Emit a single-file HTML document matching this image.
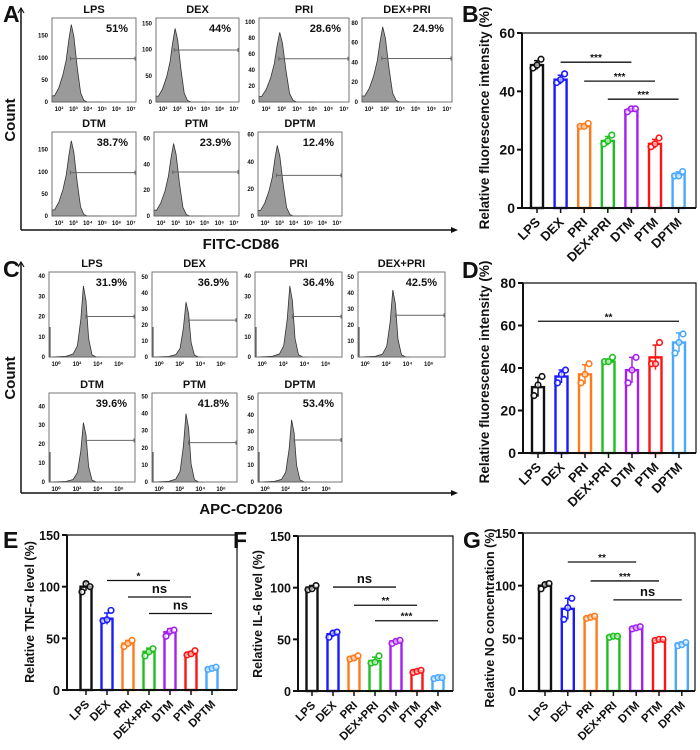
<!DOCTYPE html>
<html><head><meta charset="utf-8"><style>
html,body{margin:0;padding:0;background:#fff}
svg{display:block}
text{font-family:"Liberation Sans",Arial,sans-serif;font-weight:bold}
</style></head><body>
<svg id="fig" width="700" height="750" viewBox="0 0 700 750" xmlns="http://www.w3.org/2000/svg"></svg>
<script>
// ---------- data ----------
const groups = ["LPS","DEX","PRI","DEX+PRI","DTM","PTM","DPTM"];
const colors = ["#111111","#1a1aff","#ff7a1a","#1fbf1f","#a51ff0","#ff1414","#4aa8ff"];

const bMeans = [49,44,28,23,33.5,22,11.5];
const bPts = [[48,49,51],[43,44,46],[28,28,29],[22,23,25],[33,34,34],[21,22,24],[11,11,12.5]];
const bSig = [[1,4,50,"***"],[2,5,43.5,"***"],[3,6,37.3,"***"]];
const bTicks = [0,20,40,60];

const dMeans = [31,36,37,43,39,45,52];
const dPts = [[27,32,36],[33,37,39],[33,37,42],[43,43,45],[33,39,45],[42,42,52],[47,52,56]];
const dSig = [[0,6,62,"**"]];
const dTicks = [0,20,40,60,80];

const eMeans = [100,69,45,37,56,35,21];
const ePts = [[95,103,100],[67,68,77],[42,45,48],[33,37,40],[52,57,58],[34,35,38],[20,21,22]];
const eSig = [[1,4,106,"*"],[2,5,90,"ns"],[3,6,74,"ns"]];
const fMeans = [100,55,32,29,48,19,13];
const fPts = [[98,99,102],[52,56,57],[31,32,34],[27,28,34],[46,48,49],[18,19,20],[12,13,13]];
const fSig = [[1,4,100.6,"ns"],[2,5,83,"**"],[3,6,68,"***"]];
const gMeans = [100,78,70,52,60,48,45];
const gPts = [[97,101,102],[68,79,88],[69,70,71],[51,52,52],[59,60,61],[48,49,49],[43,44,46]];
const gSig = [[1,4,122.5,"**"],[2,5,104.5,"***"],[3,6,86.5,"ns"]];
const efgTicks = [0,50,100,150];

// flow cytometry panels
const aTitles = ["LPS","DEX","PRI","DEX+PRI","DTM","PTM","DPTM"];
const aPct = ["51%","44%","28.6%","24.9%","38.7%","23.9%","12.4%"];
const aYTicks = [[0,50,100,150],[0,50,100,150],[0,20,40,60,80,100],[0,20,40,60,80],[0,50,100,150],[0,20,40,60],[0,20,40,60]];
const aYMax = [190,160,105,85,190,65,62];
const aPeak = [175,140,87,76,170,56,52];
const aGate = [98,99,54,44,98,34,30];
const aXTicks = ["10²","10³","10⁴","10⁵","10⁶","10⁷"];
const cPct = ["31.9%","36.9%","36.4%","42.5%","39.6%","41.8%","53.4%"];
const cYTicks = [[0,10,20,30,40],[0,10,20,30,40,50],[0,10,20,30,40],[0,10,20,30,40,50],[0,10,20,30,40],[0,10,20,30,40,50],[0,10,20,30,40,50]];
const cYMax = [42,53,42,53,47,52,53];
const cPeak = [37,36,37,44,33,42,39];
const cGate = [20,23,20,26,22,23,25];
const cXTicks = ["10⁰","10²","10⁴","10⁶"];
// histogram shape profiles (x fraction, relative height)
const aProfX = [0,0.03,0.08,0.13,0.17,0.2,0.23,0.26,0.3,0.34,0.38,0.42];
const aProfY = [0.08,0.08,0.18,0.35,0.55,0.8,1.0,0.85,0.45,0.12,0.02,0];
const cProfX = [0.02,0.2,0.28,0.33,0.37,0.4,0.43,0.46,0.5,0.55];
const cProfY = [0,0.01,0.04,0.15,0.5,0.95,0.75,0.25,0.03,0];

// ---------- helpers ----------
const NS="http://www.w3.org/2000/svg";
const svg=document.getElementById('fig');
function mk(tag,attrs,parent){const e=document.createElementNS(NS,tag);for(const k in attrs)e.setAttribute(k,attrs[k]);(parent||svg).appendChild(e);return e;}
function txt(s,x,y,size,anchor,parent,extra){const t=mk('text',Object.assign({x:x,y:y,'font-size':size,'text-anchor':anchor||'start',fill:'#111'},extra||{}),parent);t.textContent=s;return t;}

// panel letters
[["A",3,22],["B",462,22],["C",3,277],["D",462,278],["E",3,548],["F",233,548],["G",463,548]].forEach(function(p){
  const t=txt(p[0],p[1],p[2],23,'start');
  
  
});

// ---------- flow panels ----------
function flowPanel(boxes,titles,pct,yticks,ymax,peak,gate,xticks,profX,profY,gateStart,prefix,titleOff){
  boxes.forEach(function(b,i){
    const g=mk('g',{});
    
    
    const x=b[0],y=b[1],w=b[2],h=b[3];
    const yy=v=>y+h-v/ymax[i]*h;
    // histogram path
    let d='M'+x+','+(y+h);
    profX.forEach(function(px,k){d+=' L'+(x+px*w).toFixed(1)+','+yy(profY[k]*peak[i]).toFixed(1);});
    d+=' L'+(x+w*0.6)+','+(y+h)+' Z';
    const hp=mk('path',{d:d,fill:'#9a9a9a',stroke:'#333','stroke-width':0.8},g);
    
    
    if(prefix==='c'){mk('line',{x1:x+1,y1:y+h,x2:x+1,y2:y+h-30,stroke:'#555','stroke-width':1.2},g);}
    const r=mk('rect',{x:x,y:y,width:w,height:h,fill:'none',stroke:'#666','stroke-width':0.9},g);
    
    
    // gate
    const gx=x+gateStart*w, gy=yy(gate[i]);
    mk('line',{x1:gx,y1:gy,x2:x+w,y2:gy,stroke:'#666','stroke-width':1},g);
    mk('line',{x1:gx,y1:gy-2,x2:gx,y2:gy+2,stroke:'#666','stroke-width':1},g);
    mk('line',{x1:x+w-1,y1:gy-2,x2:x+w-1,y2:gy+2,stroke:'#666','stroke-width':1},g);
    // y ticks
    yticks[i].forEach(function(v){txt(String(v),x-4,yy(v)+2,6,'end',g);});
    // x ticks
    xticks.forEach(function(s,k){const tx=x+7+k*(w-12)/(xticks.length-1)*(prefix==='c'?0.85:1);txt(s,tx,y+h+9,6,'middle',g);});
    const tt=txt(titles[i],x+w/2,y-titleOff,11,'middle',g);
    
    
    const pt=txt(pct[i],x+w-8,y+14,11,'end',g);
    
    
  });
}
const aBoxes=[[52,18,84,84],[156,18,83,84],[259,18,90,84],[362,18,90,84],[52,132,84,84],[154,132,85,84],[258,132,84,84]];
flowPanel(aBoxes,aTitles,aPct,aYTicks,aYMax,aPeak,aGate,aXTicks,aProfX,aProfY,0.22,'a',5);
const cBoxes=[[49,272,86,85],[152,272,85,85],[255,272,87,85],[358,272,87,85],[49,393,86,89],[152,393,85,89],[258,393,84,89]];
flowPanel(cBoxes,aTitles,cPct,cYTicks,cYMax,cPeak,cGate,cXTicks,cProfX,cProfY,0.43,'c',5);

// big axes for A & C
function bigAxes(yTop,yBot,label,labelY,countY,prefix){
  const g=mk('g',{});
  
  
  mk('line',{x1:21,y1:yTop,x2:21,y2:yBot,stroke:'#111','stroke-width':1.5},g);
  mk('path',{d:'M18,'+(yTop+5)+' L21,'+yTop+' L24,'+(yTop+5),fill:'none',stroke:'#111','stroke-width':1.2},g);
  mk('line',{x1:21,y1:yBot,x2:455,y2:yBot,stroke:'#111','stroke-width':1.5},g);
  mk('path',{d:'M451,'+(yBot-3)+' L458,'+yBot+' L451,'+(yBot+3)+' Z',fill:'#111'},g);
  const t=txt(label,241,labelY,15,'middle',g);
  
  
  const c=txt('Count',15,countY,15,'middle',g,{transform:'rotate(-90 15 '+countY+')'});
  
  
}
bigAxes(8,230,'FITC-CD86',249,120,'a');
bigAxes(262,493,'APC-CD206',514,378,'c');

// ---------- bar charts ----------
function barChart(cfg,means,pts,sig,ticks){
  const g=mk('g',{});
  
  
  const ys=v=>cfg.y0-(v/cfg.ymax)*(cfg.y0-cfg.ytop);
  const xs=i=>cfg.cx0+i*cfg.dx;
  // bars
  means.forEach(function(m,i){
    const bw=cfg.bw, c=colors[i];
    const p=pts[i]; const mean=p.reduce((a,b)=>a+b,0)/p.length;
    const sd=Math.sqrt(p.reduce((a,b)=>a+(b-mean)*(b-mean),0)/(p.length-1));
    const r=mk('rect',{x:xs(i)-bw/2,y:ys(m),width:bw,height:ys(0)-ys(m),fill:'#fff',stroke:c,'stroke-width':2.4},g);
    
    
    mk('line',{x1:xs(i),y1:ys(m+sd),x2:xs(i),y2:ys(m-sd),stroke:c,'stroke-width':1.5},g);
    mk('line',{x1:xs(i)-3,y1:ys(m+sd),x2:xs(i)+3,y2:ys(m+sd),stroke:c,'stroke-width':1.5},g);
    p.forEach(function(v,k){
      const dot=mk('circle',{cx:xs(i)+(k-1)*4,cy:ys(v),r:2.8,fill:'#fff','fill-opacity':0.6,stroke:c,'stroke-width':1.6},g);
      
      
    });
    // x label
    const lx=xs(i)+4, ly=cfg.y0+15;
    const t=txt(groups[i],lx,ly,cfg.lf,'end',g,{transform:'rotate(-45 '+lx+' '+ly+')'});
    
    
    mk('line',{x1:xs(i),y1:cfg.y0,x2:xs(i),y2:cfg.y0+5,stroke:'#111','stroke-width':1.5},g);
  });
  // frame
  mk('path',{d:'M'+cfg.x0+','+cfg.ytop+' L'+cfg.x0+','+cfg.y0+' L'+cfg.xr+','+cfg.y0,fill:'none',stroke:'#111','stroke-width':2},g);
  mk('path',{d:'M'+cfg.x0+','+cfg.ytop+' L'+cfg.xr+','+cfg.ytop+' L'+cfg.xr+','+cfg.y0,fill:'none',stroke:'#111','stroke-width':1.2},g);
  ticks.forEach(function(v){
    mk('line',{x1:cfg.x0-5,y1:ys(v),x2:cfg.x0,y2:ys(v),stroke:'#111','stroke-width':2},g);
    const t=txt(String(v),cfg.x0-7,ys(v)+5,cfg.tf,'end',g);
    
    
  });
  sig.forEach(function(s){
    const y=ys(s[2]);
    const l=mk('line',{x1:xs(s[0]),y1:y,x2:xs(s[1]),y2:y,stroke:'#111','stroke-width':1.3},g);
    
    
    const isNs=s[3]==='ns';
    const t=txt(s[3],(xs(s[0])+xs(s[1]))/2,isNs?y-4:y-1,isNs?13:10,'middle',g,{'font-weight':isNs?'normal':'bold'});
    
    
  });
  const yt=txt(cfg.title,cfg.tx,cfg.ty,cfg.ttf,'middle',g,{transform:'rotate(-90 '+cfg.tx+' '+cfg.ty+')'});
  
  
}
barChart({name:'chart-b-cd86',x0:522,xr:696,ytop:33,y0:208,ymax:60,cx0:537,dx:23.6,bw:12,lf:13,tf:14,title:'Relative fluorescence intensity (%)',tx:489,ty:118,ttf:13.5},bMeans,bPts,bSig,bTicks);
barChart({name:'chart-d-cd206',x0:523,xr:696,ytop:283,y0:453,ymax:80,cx0:538,dx:23.5,bw:12,lf:13,tf:14,title:'Relative fluorescence intensity (%)',tx:489,ty:372,ttf:13.5},dMeans,dPts,dSig,dTicks);
barChart({name:'chart-e-tnf',x0:67,xr:237,ytop:535,y0:690,ymax:150,cx0:86,dx:21,bw:11,lf:11.5,tf:12.5,title:'Relative TNF-α level (%)',tx:34,ty:612,ttf:12.5},eMeans,ePts,eSig,efgTicks);
barChart({name:'chart-f-il6',x0:298,xr:453,ytop:536,y0:691,ymax:150,cx0:312,dx:21,bw:11,lf:11.5,tf:12.5,title:'Relative IL-6 level (%)',tx:262,ty:614,ttf:12.5},fMeans,fPts,fSig,efgTicks);
barChart({name:'chart-g-no',x0:523,xr:695,ytop:533,y0:691,ymax:150,cx0:545,dx:22.8,bw:12,lf:11.5,tf:12.5,title:'Relative NO concentration (%)',tx:494,ty:618,ttf:12.5},gMeans,gPts,gSig,efgTicks);
</script>
</body></html>
